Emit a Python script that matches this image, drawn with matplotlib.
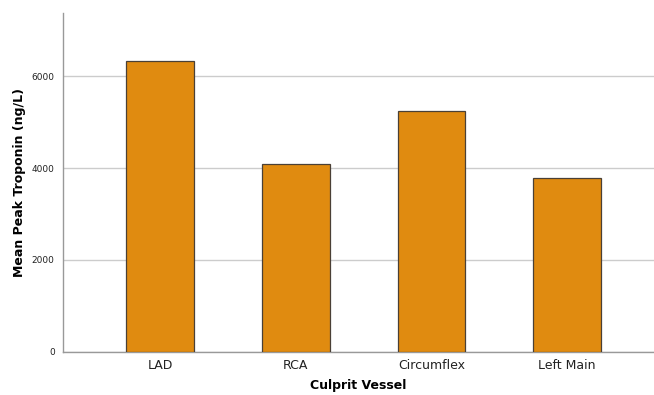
import matplotlib
matplotlib.use("Agg")
import matplotlib.pyplot as plt

categories = ["LAD", "RCA", "Circumflex", "Left Main"]
values = [6326, 4087, 5239, 3783]
yticks = [0, 2000, 4000, 6000]

fig = plt.figure(figsize=(6.54, 3.95), dpi=100)
ax = fig.add_axes([0.0963, 0.109, 0.9037, 0.858])
x = list(range(len(categories)))
ax.set_axisbelow(True)
ax.yaxis.grid(True, color="#cccccc", linewidth=1.0)
ax.bar(x, values, width=0.5, color="#E08B10", edgecolor="#4a4036", linewidth=0.9, zorder=3)
ax.set_xlim(-0.715, 3.64)
ax.set_ylim(0, 7370)
ax.set_yticks(yticks)
ax.set_yticklabels([str(v) for v in yticks], fontsize=6.5, color="#222222")
ax.set_xticks(x)
ax.set_xticklabels(categories, fontsize=9, color="#222222")
ax.tick_params(axis="both", length=0)
ax.tick_params(axis="x", pad=5)
ax.tick_params(axis="y", pad=6)
for s in ["top", "right"]:
    ax.spines[s].set_visible(False)
for s in ["left", "bottom"]:
    ax.spines[s].set_color("#999999")
    ax.spines[s].set_linewidth(1.0)
ax.set_xlabel("Culprit Vessel", fontsize=9, fontweight="bold", labelpad=5)
ax.set_ylabel("Mean Peak Troponin (ng/L)", fontsize=9, fontweight="bold", labelpad=4)
fig.savefig("out.png", dpi=100)
